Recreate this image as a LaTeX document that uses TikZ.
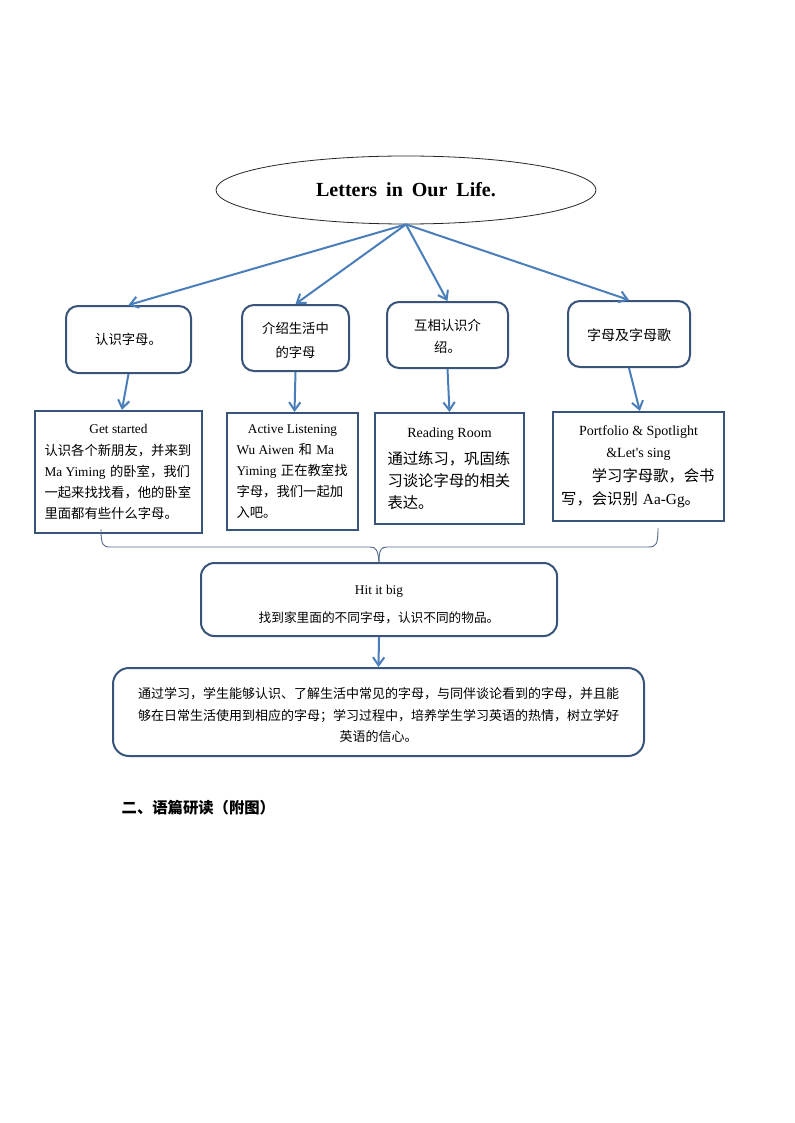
\documentclass[tikz,border=0pt]{standalone}
\usepackage{fontspec}
\setmainfont{Liberation Serif}
\newfontfamily\cjk{Noto Sans CJK SC}
\usetikzlibrary{arrows.meta,shapes.geometric}
\definecolor{boxline}{RGB}{56,84,122}
\definecolor{arrowblue}{RGB}{74,126,187}
\newcommand{\en}[1]{{\rmfamily\spaceskip=0pt\xspaceskip=0pt #1}}

\begin{document}
\begin{tikzpicture}[x=0.75pt,y=-0.75pt,
    topbox/.style={draw=boxline,line width=1.5pt,rounded corners=9pt,align=center,
      font={\cjk\fontsize{10pt}{18pt}\selectfont}},
    stepframe/.style={draw=boxline,line width=1.6pt,align=left,
      font={\cjk\fontsize{10pt}{15.75pt}\selectfont}},
    link/.style={draw=arrowblue,line width=1.5pt,-{Straight Barb[length=6pt,width=8.5pt]}}]
    \fill[white] (0,0) rectangle (794,1123);
    \useasboundingbox (0,0) rectangle (794,1123);

    % title
    \node[ellipse,draw=black!85,line width=0.6pt,minimum width=285pt,minimum height=51pt,
      font={\bfseries\fontsize{15pt}{18pt}\selectfont\spaceskip=0.45em}] (title) at (406,190) {Letters in Our Life.};

    % first row
    \node[topbox,minimum width=93.75pt,minimum height=50.25pt] (t1) at (128.5,339.5) {认识字母。};
    \node[topbox,minimum width=80.25pt,minimum height=49.5pt] (t2) at (295.5,338) {\rule{0pt}{12.5pt}介绍生活中\\的字母};
    \node[topbox,minimum width=90.75pt,minimum height=49.5pt,
      font={\cjk\fontsize{10pt}{16.5pt}\selectfont}] (t3) at (447.5,335) {\rule{0pt}{11pt}互相认识介\\绍。};
    \node[topbox,minimum width=91.5pt,minimum height=49.5pt,
      font={\cjk\fontsize{10.5pt}{18pt}\selectfont}] (t4) at (629,334) {\rule{0pt}{10.5pt}字母及字母歌};

    % second row
    \node[stepframe,text width=111pt,minimum width=125.25pt,minimum height=91.5pt] (s1) at (118.5,472)
      {{\centering\en{Get started}\par}\vspace{1pt}认识各个新朋友，并来到\\\en{Ma Yiming} 的卧室，我们\\一起来找找看，他的卧室\\里面都有些什么字母。};
    \node[stepframe,text width=84pt,minimum width=98.25pt,minimum height=87.75pt] (s2) at (292.5,471.5)
      {{\centering\en{Active Listening}\par}\en{Wu Aiwen} 和 \en{Ma}\\\en{Yiming} 正在教室找\\字母，我们一起加\\入吧。};
    \node[stepframe,text width=93pt,minimum width=111.75pt,minimum height=83.25pt,
      font={\cjk\fontsize{11.5pt}{16.5pt}\selectfont}] (s3) at (449.5,468.5)
      {{\centering\en{\fontsize{10.5pt}{20pt}\selectfont Reading Room}\par}\vspace{3.5pt}通过练习，巩固练\\习谈论字母的相关\\表达。};
    \node[stepframe,text width=116pt,minimum width=128.25pt,minimum height=81.75pt,
      font={\cjk\fontsize{11.5pt}{17pt}\selectfont}] (s4) at (638.5,466.5)
      {{\centering\en{\fontsize{10.5pt}{18pt}\selectfont Portfolio \& Spotlight}\par
       \en{\fontsize{10.5pt}{18pt}\selectfont \&Let\textquotesingle s sing}\par}\vspace{1pt}\hspace*{2em}学习字母歌，会书\\写，会识别 \en{Aa-Gg}。};

    % summary boxes
    \node[topbox,minimum width=267pt,minimum height=54.75pt,rounded corners=10pt,
      font={\cjk\fontsize{9.5pt}{20.5pt}\selectfont}] (h) at (379,599.5)
      {\rule{0pt}{14.5pt}\en{\fontsize{10pt}{20pt}\selectfont Hit it big}\\找到家里面的不同字母，认识不同的物品。};
    \node[topbox,minimum width=398.25pt,minimum height=66pt,rounded corners=12pt,
      font={\cjk\fontsize{9.75pt}{16pt}\selectfont}] (g) at (378.5,712)
      {\rule{0pt}{13pt}通过学习，学生能够认识、了解生活中常见的字母，与同伴谈论看到的字母，并且能\\
       够在日常生活使用到相应的字母；学习过程中，培养学生学习英语的热情，树立学好\\
       英语的信心。};

    \node[anchor=west,font={\cjk\bfseries\fontsize{11.5pt}{14pt}\selectfont}] (sec) at (117,808) {二、语篇研读（附图）};

    % arrows
    \foreach \i in {1,...,4}
      \draw[link] (title.south) -- (t\i.north);
    \draw[link] (t1.south) -- ([xshift=2.6pt]s1.north);
    \draw[link] (t2.south) -- ([xshift=1.5pt]s2.north);
    \draw[link] (t3.south) -- (s3.north);
    \draw[link] (t4.south) -- ([xshift=1pt]s4.north);
    \draw[link] (h.south) -- (g.north);

    % brace
    \draw[boxline!85,line width=0.7pt] (101,529) .. controls (101,545) and (103,547) .. (110,547)
      -- (370,547) .. controls (376,547) and (378,550) .. (h.north);
    \draw[boxline!85,line width=0.7pt] (658,528) .. controls (658,545) and (656,547) .. (648,547)
      -- (387,547) .. controls (381,547) and (379,550) .. (h.north);
\end{tikzpicture}
\end{document}
